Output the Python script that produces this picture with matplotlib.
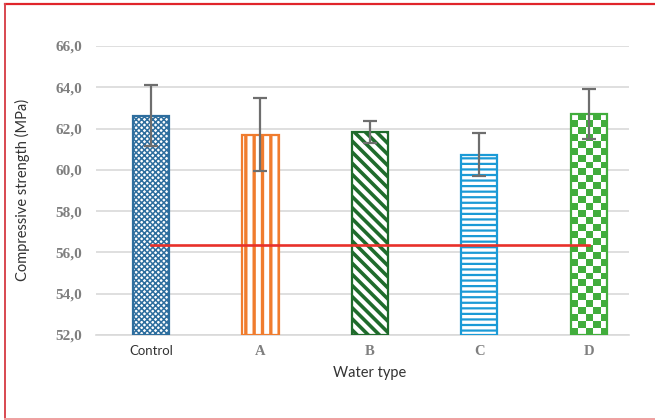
import numpy as np
import matplotlib
matplotlib.use("Agg")
import matplotlib.pyplot as plt
from matplotlib.lines import Line2D
from matplotlib.colors import ListedColormap
from matplotlib.ticker import FuncFormatter

# compressive strength per water type
water_types = ["Control", "A", "B", "C", "D"]
strength = [62.63, 61.69, 61.82, 60.74, 62.71]
strength_err = [1.47, 1.77, 0.54, 1.05, 1.20]
reference_level = 56.36

edge_colors = ["#2E6E9E", "#F07C2E", "#1F6B2C", "#1B9AD6", "#41AD3C"]
hatches = ["xxxxxx", "||", "\\\\\\", "---", None]
hatch_widths = [1.1, 2.4, 2.6, 1.6, 1.0]

fig = plt.figure(figsize=(6.55, 4.2), dpi=100)
ax = fig.add_axes([0.1466, 0.2024, 0.8134, 0.6881])

x = np.arange(len(water_types))
bar_w = 0.33
bars = []
for i in range(len(water_types)):
    face = "white" if hatches[i] else "none"
    with plt.rc_context({"hatch.linewidth": hatch_widths[i]}):
        b = ax.bar(x[i], strength[i] - 52, bottom=52, width=bar_w,
                   facecolor=face, edgecolor=edge_colors[i],
                   hatch=hatches[i], linewidth=1.6, zorder=3)[0]
    if hasattr(b, "set_hatch_linewidth"):
        b.set_hatch_linewidth(hatch_widths[i])
    bars.append(b)

ax.set_xlim(-0.502, 4.365)
ax.set_ylim(52, 66)

# checkerboard fill for the last bar
d = bars[-1]
px_h = (d.get_height() / 14.0) * 0.6881 * fig.get_figheight() * fig.dpi
nrows = int(round(px_h / 7.0))
ncols = 5
checker = (np.add.outer(np.arange(nrows), np.arange(ncols)) % 2).astype(float)
img = ax.imshow(checker, cmap=ListedColormap(["white", "#41AD3C"]),
                extent=(d.get_x(), d.get_x() + d.get_width(), 52, strength[-1]),
                aspect="auto", interpolation="nearest", zorder=2.5)
img.set_clip_path(d)
ax.set_xlim(-0.502, 4.365)
ax.set_ylim(52, 66)

ax.errorbar(x, strength, yerr=strength_err, fmt="none", ecolor="#6E6E6E",
            elinewidth=1.6, capsize=5, capthick=1.6, zorder=4)

ax.plot([x[0], x[-1]], [reference_level, reference_level],
        color="#E8312A", linewidth=1.9, zorder=5)

ax.set_yticks(np.arange(52, 66.1, 2))
ax.yaxis.set_major_formatter(FuncFormatter(lambda v, p: f"{v:.1f}".replace(".", ",")))
ax.grid(axis="y", color="#D9D9D9", linewidth=1.2, zorder=0)
ax.set_axisbelow(True)
for s in ["top", "right", "left"]:
    ax.spines[s].set_visible(False)
ax.spines["bottom"].set_color("#D9D9D9")
ax.spines["bottom"].set_linewidth(1.2)

ax.tick_params(axis="y", length=0, pad=10)
ax.tick_params(axis="x", length=0, pad=7)
for lab in ax.get_yticklabels():
    lab.set_fontfamily("Liberation Serif")
    lab.set_fontweight("bold")
    lab.set_fontsize(11)
    lab.set_color("#7F7F7F")

ax.set_xticks(x)
ax.set_xticklabels(water_types)
for i, lab in enumerate(ax.get_xticklabels()):
    if i == 0:
        lab.set_fontfamily("Lato")
        lab.set_fontsize(9.5)
        lab.set_color("#333333")
    else:
        lab.set_fontfamily("Liberation Serif")
        lab.set_fontweight("bold")
        lab.set_fontsize(10.5)
        lab.set_color("#7F7F7F")

ax.set_xlabel("Water type", fontfamily="Lato", fontsize=10.5, color="#333333")
ax.set_ylabel("Compressive strength (MPa)", fontfamily="Lato", fontsize=10.5,
              color="#333333")
ax.xaxis.set_label_coords(0.514, -0.107)
ax.yaxis.set_label_coords(-0.124, 0.502)

# red frame around the panel
fig.add_artist(Line2D([5 / 655, 1], [1 - 4 / 420, 1 - 4 / 420],
                      transform=fig.transFigure, color="#E0252B", linewidth=1.6))
fig.add_artist(Line2D([5 / 655, 5 / 655], [1 - 4 / 420, 1 / 420],
                      transform=fig.transFigure, color="#D84850", linewidth=1.4))
fig.add_artist(Line2D([5 / 655, 1], [1 / 420, 1 / 420],
                      transform=fig.transFigure, color="#EFA0A0", linewidth=1.4))

fig.savefig("out.png", dpi=100)
